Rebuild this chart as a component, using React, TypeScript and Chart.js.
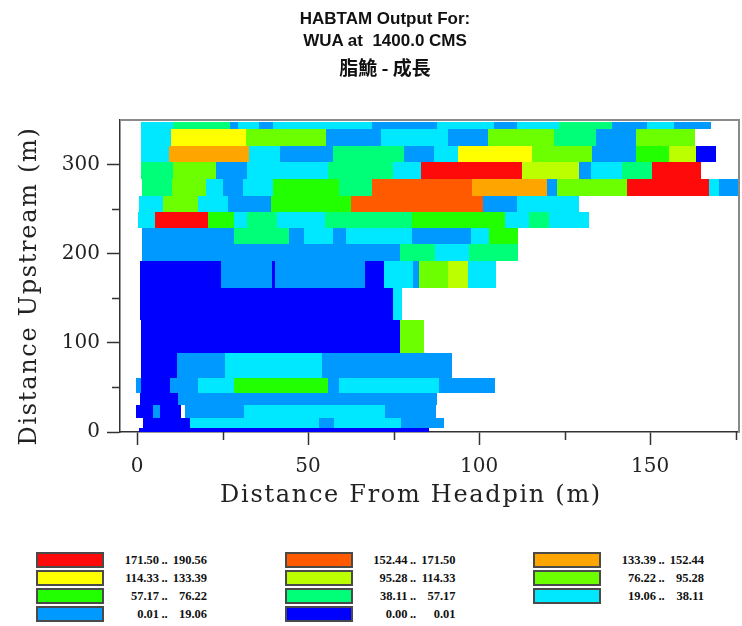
import React, { useEffect, useRef } from 'react';
import { Chart, registerables } from 'chart.js';

Chart.register(...registerables);

// ---- WUA classes (legend) ----
const classLow = ['171.50', '152.44', '133.39', '114.33', '95.28', '76.22', '57.17', '38.11', '19.06', '0.01', '0.00'];
const classHigh = ['190.56', '171.50', '152.44', '133.39', '114.33', '95.28', '76.22', '57.17', '38.11', '19.06', '0.01'];
const classColors = ['#FF0A0A', '#FF5A00', '#FFA500', '#FFFF00', '#BBFF00', '#6CFF00', '#22FF00', '#00FF78', '#00E8FF', '#0099FF', '#0000FF'];

// ---- axis ticks and titles ----
const xTickValues = [0, 25, 50, 75, 100, 125, 150, 175];
const xLabelValues = [0, 50, 100, 150];
const yTickValues = [0, 50, 100, 150, 200, 250, 300];
const yLabelValues = [0, 100, 200, 300];
const xAxisTitle = 'Distance From Headpin (m)';
const yAxisTitle = 'Distance Upstream (m)';

// ---- habitat strips: y range (m), x edges (m) and class index per cell (-1 = empty) ----
const stripA_y = [339.7, 347.2];
const stripA_x = [1.2, 10.4, 27.1, 29.4, 35.5, 39.6, 68.8, 87.8, 104.5, 111.2, 123.5, 138.9, 149.2, 157.0, 167.8];
const stripA_c = [8, 7, 9, 8, 9, 8, 9, 8, 9, 8, 7, 9, 8, 9];

const stripB_y = [321.0, 339.7];
const stripB_x = [1.2, 9.8, 31.7, 55.1, 71.4, 90.8, 102.5, 122.0, 134.2, 145.9, 163.2];
const stripB_c = [8, 3, 5, 9, 8, 9, 5, 7, 9, 5];

const stripC_y = [303.0, 321.0];
const stripC_x = [1.2, 9.4, 32.8, 41.9, 57.4, 77.9, 86.7, 93.8, 115.6, 132.9, 146.0, 155.4, 163.4, 169.2];
const stripC_c = [8, 2, 8, 9, 7, 9, 8, 3, 5, 9, 6, 4, 10];

const stripD_y = [283.6, 303.0];
const stripD_x = [1.2, 10.4, 23.0, 32.0, 55.8, 74.7, 83.1, 112.6, 129.3, 132.7, 141.9, 150.5, 164.8];
const stripD_c = [7, 5, 9, 8, 7, 8, 0, 4, 9, 8, 7, 0];

const stripE_y = [264.9, 283.6];
const stripE_x = [1.4, 10.3, 20.1, 25.1, 31.0, 39.7, 59.0, 68.8, 98.0, 120.0, 122.7, 143.2, 167.3, 170.2, 176.0];
const stripE_c = [7, 5, 8, 9, 8, 6, 7, 1, 2, 9, 5, 0, 8, 9];

const stripF_y = [246.3, 264.9];
const stripF_x = [0.7, 7.7, 17.7, 26.5, 39.2, 62.6, 101.1, 111.0, 129.1];
const stripF_c = [8, 5, 8, 9, 6, 1, 9, 8];

const stripG_y = [228.4, 246.3];
const stripG_x = [0.2, 5.2, 20.8, 28.4, 32.1, 41.0, 54.8, 80.4, 107.7, 114.7, 120.3, 132.2];
const stripG_c = [8, 0, 6, 8, 7, 8, 7, 6, 8, 7, 8];

const stripH_y = [210.4, 228.4];
const stripH_x = [1.3, 28.2, 44.4, 48.7, 57.4, 61.0, 80.3, 97.7, 103.0, 111.3];
const stripH_c = [9, 7, 9, 8, 9, 8, 9, 8, 6];

const stripI_y = [191.5, 210.4];
const stripI_x = [1.3, 76.9, 87.1, 97.0, 111.3];
const stripI_c = [9, 7, 8, 7];

const stripJ_y = [161.1, 191.5];
const stripJ_x = [0.8, 24.4, 39.3, 40.2, 66.5, 72.3, 80.6, 82.4, 90.8, 96.7, 105.0];
const stripJ_c = [10, 9, 10, 9, 10, 8, 9, 5, 4, 8];

const stripK_y = [125.6, 161.1];
const stripK_x = [0.8, 74.8, 77.6];
const stripK_c = [10, 8];

const stripL_y = [88.2, 125.6];
const stripL_x = [1.1, 76.9, 84.0];
const stripL_c = [10, 5];

const stripM_y = [60.2, 88.2];
const stripM_x = [1.2, 11.7, 25.8, 54.2, 92.2];
const stripM_c = [10, 9, 8, 9];

const stripN_y = [43.4, 60.2];
const stripN_x = [-0.3, 1.1, 9.6, 17.9, 28.2, 55.7, 58.9, 88.4, 104.7];
const stripN_c = [9, 10, 9, 8, 6, 9, 8, 9];

const stripO_y = [30.3, 43.4];
const stripO_x = [0.8, 12.0, 87.8];
const stripO_c = [10, 9];

const stripP_y = [15.4, 30.3];
const stripP_x = [-0.2, 4.6, 6.8, 12.9, 13.9, 31.2, 72.6, 87.3];
const stripP_c = [10, 9, 10, -1, 9, 8, 9];

const stripQ_y = [4.1, 15.4];
const stripQ_x = [1.7, 15.4, 53.3, 57.6, 77.1, 89.8];
const stripQ_c = [10, 8, 9, 8, 9];

const stripR_y = [0, 4.1];
const stripR_x = [0.7, 85.4];
const stripR_c = [10];

const strips = [
  { y: stripA_y, x: stripA_x, c: stripA_c },
  { y: stripB_y, x: stripB_x, c: stripB_c },
  { y: stripC_y, x: stripC_x, c: stripC_c },
  { y: stripD_y, x: stripD_x, c: stripD_c },
  { y: stripE_y, x: stripE_x, c: stripE_c },
  { y: stripF_y, x: stripF_x, c: stripF_c },
  { y: stripG_y, x: stripG_x, c: stripG_c },
  { y: stripH_y, x: stripH_x, c: stripH_c },
  { y: stripI_y, x: stripI_x, c: stripI_c },
  { y: stripJ_y, x: stripJ_x, c: stripJ_c },
  { y: stripK_y, x: stripK_x, c: stripK_c },
  { y: stripL_y, x: stripL_x, c: stripL_c },
  { y: stripM_y, x: stripM_x, c: stripM_c },
  { y: stripN_y, x: stripN_x, c: stripN_c },
  { y: stripO_y, x: stripO_x, c: stripO_c },
  { y: stripP_y, x: stripP_x, c: stripP_c },
  { y: stripQ_y, x: stripQ_x, c: stripQ_c },
  { y: stripR_y, x: stripR_x, c: stripR_c },
];

const cellsPlugin = {
  id: 'habitatCells',
  beforeDatasetsDraw(chart: any) {
    const { ctx, chartArea, scales } = chart;
    const xs = scales.x;
    const ys = scales.y;
    ctx.save();
    ctx.beginPath();
    ctx.rect(chartArea.left, chartArea.top, chartArea.right - chartArea.left, chartArea.bottom - chartArea.top);
    ctx.clip();
    strips.forEach((s) => {
      const yTop = Math.round(ys.getPixelForValue(s.y[1]));
      const yBot = Math.round(ys.getPixelForValue(s.y[0]));
      for (let i = 0; i < s.c.length; i++) {
        const cls = s.c[i];
        if (cls < 0) continue;
        const x0 = Math.round(xs.getPixelForValue(s.x[i]));
        const x1 = Math.round(xs.getPixelForValue(s.x[i + 1]));
        ctx.fillStyle = classColors[cls];
        ctx.fillRect(x0, yTop, x1 - x0, yBot - yTop);
      }
    });
    ctx.restore();
  },
  afterDraw(chart: any) {
    const { ctx, chartArea, scales } = chart;
    ctx.save();
    ctx.strokeStyle = '#8a8a8a';
    ctx.lineWidth = 2;
    ctx.beginPath();
    ctx.moveTo(chartArea.left, chartArea.top);
    ctx.lineTo(chartArea.right, chartArea.top);
    ctx.lineTo(chartArea.right, chartArea.bottom);
    ctx.stroke();

    // short minor tick marks (the unlabelled ticks)
    ctx.strokeStyle = '#333';
    ctx.lineWidth = 1.5;
    ctx.beginPath();
    xTickValues.filter((v) => !xLabelValues.includes(v)).forEach((v) => {
      const px = Math.round(scales.x.getPixelForValue(v)) + 0.5;
      ctx.moveTo(px, chartArea.bottom);
      ctx.lineTo(px, chartArea.bottom + 8);
    });
    yTickValues.filter((v) => !yLabelValues.includes(v)).forEach((v) => {
      const py = Math.round(scales.y.getPixelForValue(v)) + 0.5;
      ctx.moveTo(chartArea.left, py);
      ctx.lineTo(chartArea.left - 8, py);
    });
    ctx.stroke();

    // axis titles (letter-spaced serif, as in the original plot)
    ctx.fillStyle = '#222';
    ctx.font = '24px "DejaVu Serif"';
    ctx.textAlign = 'center';
    ctx.textBaseline = 'middle';
    try {
      (ctx as any).letterSpacing = '1.7px';
    } catch (e) {}
    ctx.fillText(xAxisTitle, chartArea.left + 291, chartArea.bottom + 64);
    ctx.translate(chartArea.left - 90, chartArea.top + 166);
    ctx.rotate(-Math.PI / 2);
    ctx.fillText(yAxisTitle, 0, 0);
    ctx.restore();
  },
};

const tickFont = { family: '"DejaVu Serif"', size: 20 };

function ChartCanvas() {
  const ref = useRef<HTMLCanvasElement | null>(null);
  useEffect(() => {
    if (!ref.current) return;
    const chart = new Chart(ref.current, {
      type: 'scatter',
      data: { datasets: [{ data: [], pointRadius: 0 }] },
      plugins: [cellsPlugin],
      options: {
        animation: false,
        responsive: false,
        maintainAspectRatio: false,
        layout: { padding: { top: 120, right: 3, left: 0, bottom: 0 } },
        plugins: { legend: { display: false }, tooltip: { enabled: false }, title: { display: false } },
        scales: {
          x: {
            type: 'linear',
            min: -5,
            max: 176,
            afterBuildTicks: (s: any) => {
              s.ticks = xTickValues.map((v) => ({ value: v }));
            },
            afterFit: (s: any) => {
              s.height = 108;
              s.paddingLeft = 0;
              s.paddingRight = 0;
            },
            ticks: {
              autoSkip: false,
              maxRotation: 0,
              padding: 10,
              color: '#222',
              font: tickFont,
              callback: (v: any) => (xLabelValues.includes(Number(v)) ? String(v) : ''),
            },
            grid: {
              display: true,
              drawOnChartArea: false,
              drawTicks: true,
              tickLength: 13,
              tickWidth: 1.5,
              tickColor: (c: any) => (c.tick && xLabelValues.includes(c.tick.value) ? '#333' : 'rgba(0,0,0,0)'),
            },
            border: { display: true, color: '#333', width: 1.5 },
            title: { display: false, text: xAxisTitle },
          },
          y: {
            type: 'linear',
            min: 0,
            max: 350,
            afterBuildTicks: (s: any) => {
              s.ticks = yTickValues.map((v) => ({ value: v }));
            },
            afterFit: (s: any) => {
              s.width = 120;
              s.paddingTop = 0;
              s.paddingBottom = 0;
            },
            ticks: {
              autoSkip: false,
              padding: 7,
              color: '#222',
              font: tickFont,
              callback: (v: any) => (yLabelValues.includes(Number(v)) ? String(v) : ''),
            },
            grid: {
              display: true,
              drawOnChartArea: false,
              drawTicks: true,
              tickLength: 13,
              tickWidth: 1.5,
              tickColor: (c: any) => (c.tick && yLabelValues.includes(c.tick.value) ? '#333' : 'rgba(0,0,0,0)'),
            },
            border: { display: true, color: '#333', width: 1.5 },
            title: { display: false, text: yAxisTitle },
          },
        },
      },
    } as any);
    return () => chart.destroy();
  }, []);
  return <canvas ref={ref} width={742} height={540} style={{ display: 'block', position: 'absolute', left: 0, top: 0 }} />;
}

export default function App() {
  return (
    <div style={{ position: 'absolute', left: 0, top: 0, width: 742, height: 626, background: '#fff', overflow: 'hidden' }}>
      <ChartCanvas />
      <div style={{ position: 'absolute', left: 0, width: 770, top: 9, textAlign: 'center', font: 'bold 17px "Liberation Sans", Arial, sans-serif', lineHeight: '20px', color: '#111' }}>
        HABTAM Output For:
      </div>
      <div style={{ position: 'absolute', left: 0, width: 770, top: 31, textAlign: 'center', font: 'bold 17px "Liberation Sans", Arial, sans-serif', lineHeight: '20px', color: '#111', whiteSpace: 'pre' }}>
        {'WUA at  1400.0 CMS'}
      </div>
      <div style={{ position: 'absolute', left: 0, width: 770, top: 55, textAlign: 'center', font: 'bold 19px "Noto Sans CJK TC", sans-serif', lineHeight: '24px', color: '#111' }}>
        脂鮠 - 成長
      </div>
      {classLow.map((low, i) => {
        const col = i % 3;
        const row = Math.floor(i / 3);
        const left = 36 + col * 248.5;
        const top = 552 + row * 18;
        return (
          <React.Fragment key={i}>
            <div style={{ position: 'absolute', left, top, width: 68, height: 16, background: classColors[i], border: '2px solid #4a4a4a', boxSizing: 'border-box' }} />
            <div style={{ position: 'absolute', left: left + 68, top, width: 103, height: 16, display: 'flex', justifyContent: 'flex-end', alignItems: 'center', font: 'bold 12.5px "Liberation Serif", serif', color: '#111', whiteSpace: 'pre' }}>
              <span style={{ display: 'inline-block', width: 36, textAlign: 'right' }}>{low}</span>
              <span style={{ display: 'inline-block', width: 11, textAlign: 'center' }}>..</span>
              <span style={{ display: 'inline-block', width: 37, textAlign: 'right' }}>{classHigh[i]}</span>
            </div>
          </React.Fragment>
        );
      })}
    </div>
  );
}
